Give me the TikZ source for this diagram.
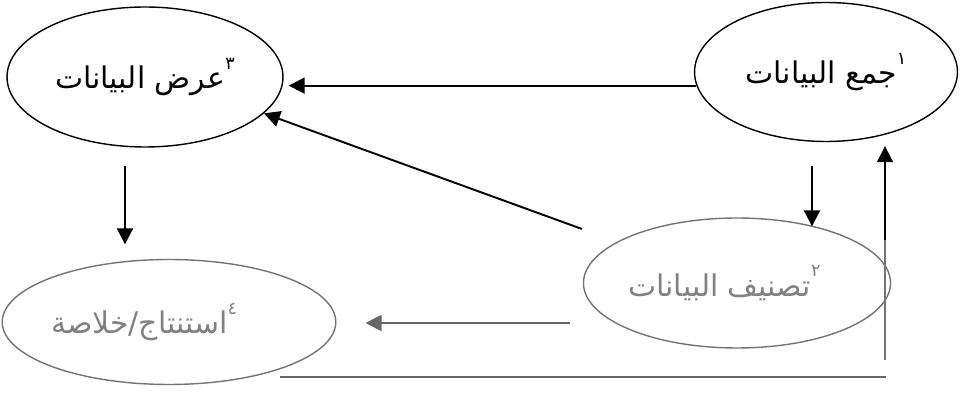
\documentclass[tikz,border=0pt]{standalone}
\usepackage{fontspec}
\newfontfamily\arabicfont[Script=Arabic]{DejaVu Sans}
\TeXXeTstate=1
\usetikzlibrary{arrows.meta,shapes.geometric}
% small raised stage number
\newcommand{\stagenum}[1]{\raisebox{1.2ex}{\fontsize{10}{11}\selectfont #1}}
\begin{document}
\begin{tikzpicture}[x=0.02cm,y=-0.02cm,
  stage/.style={ellipse,draw,line width=0.8pt,inner sep=0pt,font=\fontsize{17}{20}\selectfont\arabicfont},
  faded/.style={draw=black!55,text=black!50},
  arr/.style={-{Triangle[length=3.2mm,width=3.2mm]},line width=1.1pt},
  fadedarr/.style={arr,draw=black!60,fill=black!60}]

\useasboundingbox (0,0) rectangle (960,394);

% The four stages
\node[stage,minimum width=5.52cm,minimum height=2.8cm] (e3) at (145,77) {\beginR\stagenum{٣}عرض البيانات\endR};
\node[stage,minimum width=5.26cm,minimum height=2.78cm] (e1) at (826,72) {\beginR\stagenum{١}جمع البيانات\endR};
\node[stage,faded,minimum width=5.6cm,minimum height=2.6cm] (e2) at (737,283) {\beginR\stagenum{٢}تصنيف البيانات\endR\hspace*{0.5cm}};
\node[stage,faded,minimum width=5.96cm,minimum height=2.5cm] (e4) at (169,322) {\beginR\stagenum{٤}استنتاج/خلاصة\endR\hspace*{1cm}};

% Free ends of the connectors
\coordinate (c1) at (812,166);
\coordinate (c2) at (582,229);
\coordinate (c3) at (125,166);
\coordinate (c5) at (885,360);
\coordinate (c6) at (885,240);
\coordinate (c7) at (570,323);
\coordinate (c8) at (280,377);
\coordinate (c9) at (886,377);

% Arrows between the stages
\draw[arr,shorten >=1mm] (e1.186) -- (e1.186 -| e3.east);
\draw[arr] (c2) -- (e3.-17);
\draw[arr] (c1) -- (c1 |- e2.36);
\draw[arr,shorten >=2.9mm] (c3) -- (c3 |- e4.north);
\draw[fadedarr,shorten >=5.8mm] (c7) -- (c7 -| e4.east);

% Loop back from the bottom to the first stage
\draw[line width=1.1pt,draw=black!60] (c8) -- (c9);
\draw[arr,shorten >=0.8mm] (c5) -- (c5 |- e1.south);
\draw[line width=1.1pt,draw=black!55] (c5) -- (c6);
\end{tikzpicture}
\end{document}
